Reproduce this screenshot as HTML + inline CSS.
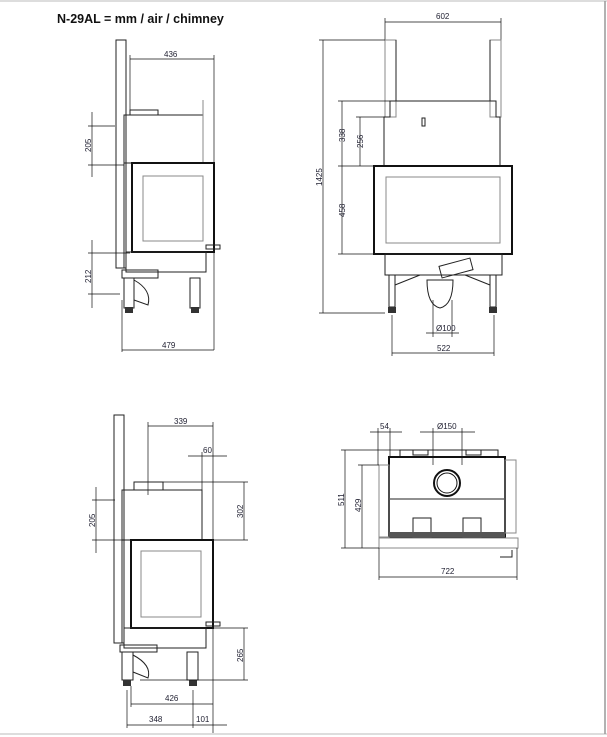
<!DOCTYPE html>
<html><head><meta charset="utf-8"><style>
html,body{margin:0;padding:0;background:#fff;width:607px;height:737px;overflow:hidden}
svg{display:block}
text{font-family:"Liberation Sans",sans-serif;font-size:8px;fill:#223}
.t{font-size:12.5px;font-weight:bold;fill:#111}
.o{fill:none;stroke:#222;stroke-width:1}
.b{fill:none;stroke:#111;stroke-width:2}
.g{fill:none;stroke:#888;stroke-width:1}
.d{fill:none;stroke:#111;stroke-width:.7}
</style></head><body>
<svg width="607" height="737" viewBox="0 0 607 737">
<line x1="0" y1="1" x2="607" y2="1" stroke="#bbb"/>
<line x1="0" y1="734" x2="607" y2="734" stroke="#bbb"/>
<line x1="605" y1="1" x2="605" y2="734" stroke="#999" stroke-width="1.5"/>
<text class="t" x="57" y="23">N-29AL = mm / air / chimney</text>

<!-- TOP LEFT -->
<rect class="o" x="116" y="40" width="10" height="228"/>
<line class="d" x1="130" y1="59" x2="214" y2="59"/><line class="d" x1="130" y1="55" x2="130" y2="110"/><line class="d" x1="214" y1="55" x2="214" y2="350"/>
<text x="164" y="57">436</text>
<rect class="o" x="124" y="115" width="79" height="48"/>
<line class="g" x1="203" y1="100" x2="203" y2="163"/>
<rect class="o" x="130" y="110" width="28" height="5"/>
<rect class="b" x="132" y="163" width="82" height="89"/>
<rect class="g" x="143" y="176" width="60" height="65"/>
<line class="o" x1="124" y1="163" x2="124" y2="268"/>
<rect class="o" x="126" y="252" width="80" height="20"/>
<rect class="o" x="122" y="270" width="36" height="8"/>
<rect class="o" x="124" y="278" width="10" height="30"/><rect class="o" x="190" y="278" width="10" height="30"/>
<rect fill="#333" x="125" y="307" width="8" height="6"/><rect fill="#333" x="191" y="307" width="8" height="6"/>
<path class="o" d="M134 280 Q152 290 148 305 L134 300"/>
<rect class="o" x="206" y="245" width="14" height="4"/>
<line class="d" x1="92" y1="112" x2="92" y2="177"/><line class="d" x1="88" y1="126" x2="115" y2="126"/><line class="d" x1="88" y1="165" x2="124" y2="165"/>
<text transform="translate(91,152) rotate(-90)">205</text>
<line class="d" x1="92" y1="240" x2="92" y2="308"/><line class="d" x1="88" y1="253" x2="130" y2="253"/><line class="d" x1="88" y1="294" x2="120" y2="294"/>
<text transform="translate(91,283) rotate(-90)">212</text>
<line class="d" x1="122" y1="300" x2="122" y2="352"/>
<line class="d" x1="122" y1="350" x2="214" y2="350"/>
<text x="162" y="348">479</text>

<!-- TOP RIGHT -->
<line class="d" x1="385" y1="22" x2="501" y2="22"/><line class="d" x1="385" y1="18" x2="385" y2="40"/><line class="d" x1="501" y1="18" x2="501" y2="40"/>
<text x="436" y="19">602</text>
<rect class="g" x="385" y="40" width="11" height="77"/><rect class="g" x="490" y="40" width="11" height="77"/>
<line class="o" x1="396" y1="40" x2="396" y2="101"/><line class="o" x1="490" y1="40" x2="490" y2="101"/>
<path class="o" d="M390 101 H496 V117 H500 V166 H384 V117 H390 Z"/>
<rect class="o" x="422" y="118" width="3" height="8"/>
<rect class="b" x="374" y="166" width="138" height="88"/>
<rect class="g" x="386" y="177" width="114" height="66"/>
<rect class="o" x="385" y="254" width="117" height="21"/>
<rect class="o" x="389" y="275" width="6" height="32"/><rect class="o" x="490" y="275" width="6" height="32"/>
<rect fill="#333" x="388" y="307" width="8" height="6"/><rect fill="#333" x="489" y="307" width="8" height="6"/>
<path class="o" d="M427 280 Q427 305 440 308 Q453 305 453 280 Z"/>
<path class="o" d="M395 285 L420 275 M490 285 L465 275"/>
<rect class="o" x="440" y="262" width="32" height="12" transform="rotate(-15 456 268)"/>
<line class="d" x1="323" y1="40" x2="323" y2="313"/><line class="d" x1="319" y1="40" x2="385" y2="40"/><line class="d" x1="319" y1="313" x2="385" y2="313"/>
<text transform="translate(322,186) rotate(-90)">1425</text>
<line class="d" x1="342" y1="101" x2="342" y2="254"/><line class="d" x1="338" y1="101" x2="390" y2="101"/><line class="d" x1="338" y1="166" x2="374" y2="166"/><line class="d" x1="338" y1="254" x2="374" y2="254"/>
<text transform="translate(345,142) rotate(-90)">338</text>
<text transform="translate(345,217) rotate(-90)">458</text>
<line class="d" x1="360" y1="117" x2="360" y2="166"/><line class="d" x1="356" y1="117" x2="385" y2="117"/>
<text transform="translate(363,148) rotate(-90)">256</text>
<line class="d" x1="426" y1="333" x2="459" y2="333"/><line class="d" x1="433" y1="300" x2="433" y2="337"/><line class="d" x1="452" y1="300" x2="452" y2="337"/>
<text x="436" y="331">Ø100</text>
<line class="d" x1="392" y1="315" x2="392" y2="356"/><line class="d" x1="494" y1="315" x2="494" y2="356"/><line class="d" x1="392" y1="353" x2="494" y2="353"/>
<text x="437" y="351">522</text>

<!-- BOTTOM LEFT -->
<rect class="o" x="114" y="415" width="10" height="228"/>
<line class="d" x1="148" y1="426" x2="213" y2="426"/><line class="d" x1="148" y1="422" x2="148" y2="495"/><line class="d" x1="213" y1="422" x2="213" y2="733"/>
<text x="174" y="424">339</text>
<line class="d" x1="188" y1="456" x2="227" y2="456"/><line class="d" x1="202" y1="452" x2="202" y2="540"/>
<text x="203" y="453">60</text>
<rect class="o" x="122" y="490" width="80" height="50"/>
<rect class="o" x="134" y="482" width="29" height="8"/>
<line class="d" x1="163" y1="482" x2="248" y2="482"/><line class="d" x1="213" y1="540" x2="248" y2="540"/>
<line class="d" x1="244" y1="482" x2="244" y2="540"/>
<text transform="translate(243,518) rotate(-90)">302</text>
<rect class="b" x="131" y="540" width="82" height="88"/>
<rect class="g" x="141" y="551" width="60" height="66"/>
<line class="o" x1="122" y1="540" x2="122" y2="643"/>
<rect class="o" x="124" y="628" width="82" height="20"/>
<rect class="o" x="120" y="645" width="37" height="7"/>
<rect class="o" x="122" y="652" width="11" height="28"/><rect class="o" x="187" y="652" width="11" height="28"/>
<rect fill="#333" x="123" y="680" width="8" height="6"/><rect fill="#333" x="189" y="680" width="8" height="6"/>
<path class="o" d="M133 655 Q152 665 148 678 L133 672"/>
<rect class="o" x="206" y="622" width="14" height="4"/>
<line class="d" x1="96" y1="487" x2="96" y2="553"/><line class="d" x1="92" y1="500" x2="115" y2="500"/><line class="d" x1="92" y1="540" x2="131" y2="540"/>
<text transform="translate(95,527) rotate(-90)">205</text>
<line class="d" x1="213" y1="628" x2="248" y2="628"/><line class="d" x1="140" y1="680" x2="248" y2="680"/>
<line class="d" x1="244" y1="628" x2="244" y2="680"/>
<text transform="translate(243,662) rotate(-90)">265</text>
<line class="d" x1="131" y1="686" x2="131" y2="707"/><line class="d" x1="131" y1="704" x2="213" y2="704"/>
<text x="165" y="701">426</text>
<line class="d" x1="127" y1="690" x2="127" y2="728"/><line class="d" x1="193" y1="690" x2="193" y2="728"/>
<line class="d" x1="127" y1="725" x2="227" y2="725"/>
<text x="149" y="722">348</text><text x="196" y="722">101</text>

<!-- BOTTOM RIGHT -->
<line class="d" x1="370" y1="432" x2="402" y2="432"/><line class="d" x1="378" y1="428" x2="378" y2="465"/><line class="d" x1="390" y1="428" x2="390" y2="456"/>
<text x="380" y="429">54</text>
<line class="d" x1="420" y1="432" x2="475" y2="432"/><line class="d" x1="433" y1="428" x2="433" y2="465"/><line class="d" x1="462" y1="428" x2="462" y2="465"/>
<text x="437" y="429">Ø150</text>
<path class="o" d="M400 450 H498 V457 H400 Z"/>
<rect class="o" x="413" y="450" width="15" height="5"/><rect class="o" x="466" y="450" width="15" height="5"/>
<rect class="b" x="389" y="457" width="116" height="80"/>
<line class="o" x1="389" y1="499" x2="505" y2="499"/>
<circle cx="447" cy="483" r="13" fill="none" stroke="#111" stroke-width="2"/>
<circle cx="447" cy="483" r="10" fill="none" stroke="#111"/>
<rect class="o" x="413" y="518" width="18" height="19"/><rect class="o" x="463" y="518" width="18" height="19"/>
<rect class="g" x="379" y="465" width="10" height="72"/>
<rect class="g" x="505" y="460" width="11" height="73"/>
<rect class="g" x="379" y="538" width="139" height="10"/>
<rect fill="#555" x="389" y="532" width="116" height="5"/>
<path class="o" d="M500 557 H512 V550"/>
<line class="d" x1="345" y1="450" x2="345" y2="548"/><line class="d" x1="341" y1="450" x2="400" y2="450"/><line class="d" x1="341" y1="548" x2="379" y2="548"/>
<text transform="translate(344,506) rotate(-90)">511</text>
<line class="d" x1="362" y1="465" x2="362" y2="548"/><line class="d" x1="358" y1="465" x2="379" y2="465"/>
<text transform="translate(361,512) rotate(-90)">429</text>
<line class="d" x1="379" y1="548" x2="379" y2="580"/><line class="d" x1="517" y1="548" x2="517" y2="580"/>
<line class="d" x1="379" y1="577" x2="517" y2="577"/>
<text x="441" y="574">722</text>
</svg>
</body></html>
